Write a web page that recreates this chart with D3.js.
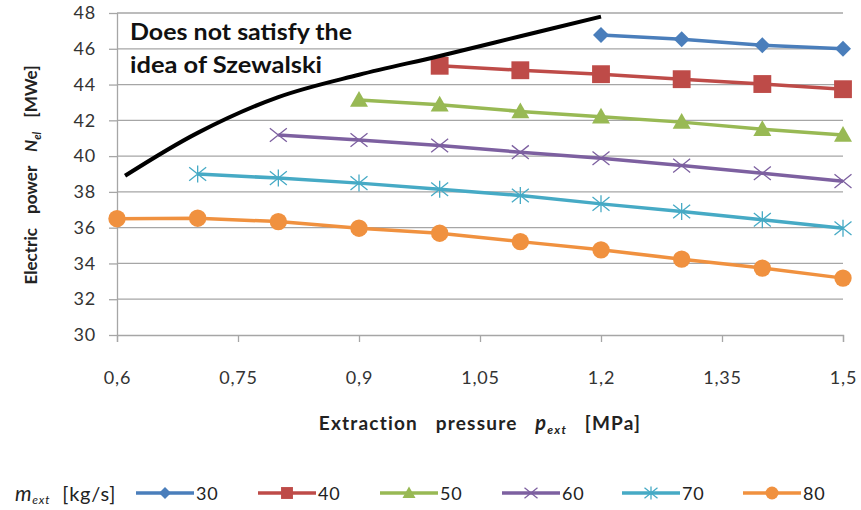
<!DOCTYPE html>
<html><head><meta charset="utf-8">
<script src="https://cdn.jsdelivr.net/npm/d3@7"></script>
<style>body{margin:0;background:#fff;} svg{display:block;font-family:Lato,"Open Sans",sans-serif;}</style>
</head><body><svg id="c" width="861" height="510"></svg>
<script>
const pressures = [0.6,0.7,0.8,0.9,1.0,1.1,1.2,1.3,1.4,1.5];
const flows = [30,40,50,60,70,80];
const s30 = [null,null,null,null,null,null,46.77,46.53,46.2,46.0];
const s40 = [null,null,null,null,45.05,44.8,44.58,44.3,44.03,43.74];
const s50 = [null,null,null,43.14,42.87,42.5,42.2,41.9,41.5,41.18];
const s60 = [null,null,41.18,40.9,40.59,40.22,39.88,39.47,39.04,38.6];
const s70 = [null,39.0,38.77,38.49,38.15,37.8,37.33,36.9,36.44,35.97];
const s80 = [36.5,36.53,36.34,35.97,35.69,35.22,34.76,34.24,33.74,33.18];
const limitP = [0.61,0.7,0.8,0.9,1.0,1.1,1.2];
const limitV = [38.9,41.3,43.3,44.55,45.6,46.7,47.8];
const xTicks = [0.6,0.75,0.9,1.05,1.2,1.35,1.5];
const yTicks = [30,32,34,36,38,40,42,44,46,48];
const colors = ["#4a7ebb","#be4b48","#98b954","#7d60a0","#46aac5","#f0913f"];
const markers = ["diamond","square","triangle","x","asterisk","circle"];
const seriesVals = [s30,s40,s50,s60,s70,s80];

const svg = d3.select("#c");
const x = d3.scaleLinear().domain([0.6,1.5]).range([117,843]);
const y = d3.scaleLinear().domain([30,48]).range([335,13]);
const fmt = d => String(d).replace(".",",");

// gridlines
svg.append("g").selectAll("line").data(yTicks.filter(d=>d>30)).join("line")
  .attr("x1",117).attr("x2",843).attr("y1",d=>y(d)).attr("y2",d=>y(d))
  .attr("stroke","#a6a6a6").attr("stroke-width",1.3);

const ya = svg.append("g").attr("transform","translate(117,0)")
  .call(d3.axisLeft(y).tickValues(yTicks).tickSize(8).tickPadding(13).tickFormat(d=>d));
const xa = svg.append("g").attr("transform","translate(0,335)")
  .call(d3.axisBottom(x).tickValues(xTicks).tickSize(7).tickPadding(29).tickFormat(fmt));
[ya,xa].forEach(a=>{
  a.selectAll("path,line").attr("stroke","#a6a6a6").attr("stroke-width",1.3);
  a.selectAll("text").attr("font-size",18).attr("fill","#333").attr("letter-spacing",0.8)
    .attr("font-family","Lato,sans-serif");
});
ya.select(".domain").attr("d","M0.5,13V335");

function markerPath(type, s){
  const g = d3.path();
  if(type==="diamond"){g.moveTo(0,-s);g.lineTo(s,0);g.lineTo(0,s);g.lineTo(-s,0);g.closePath();}
  else if(type==="square"){g.rect(-s*0.85,-s*0.85,s*1.7,s*1.7);}
  else if(type==="triangle"){g.moveTo(0,-s);g.lineTo(s,s*0.75);g.lineTo(-s,s*0.75);g.closePath();}
  else if(type==="x"){g.moveTo(-s,-s*0.8);g.lineTo(s,s*0.8);g.moveTo(-s,s*0.8);g.lineTo(s,-s*0.8);}
  else if(type==="asterisk"){g.moveTo(-s,-s*0.8);g.lineTo(s,s*0.8);g.moveTo(-s,s*0.8);g.lineTo(s,-s*0.8);g.moveTo(0,-s);g.lineTo(0,s);}
  else if(type==="circle"){g.arc(0,0,s,0,Math.PI*2);}
  return g.toString();
}
function drawMarker(sel, type, color, s){
  const open = type==="x"||type==="asterisk";
  sel.append("path").attr("d",markerPath(type,s))
    .attr("fill",open?"none":color).attr("stroke",color).attr("stroke-width",open?1.3:0);
}

const line = d3.line().defined(d=>d.v!=null).x(d=>x(d.p)).y(d=>y(d.v));
seriesVals.forEach((vals,i)=>{
  const data = pressures.map((p,j)=>({p,v:vals[j]}));
  svg.append("path").datum(data).attr("d",line).attr("fill","none")
    .attr("stroke",colors[i]).attr("stroke-width",3.5);
  data.filter(d=>d.v!=null).forEach(d=>{
    const g = svg.append("g").attr("transform",`translate(${x(d.p)},${y(d.v)})`);
    drawMarker(g, markers[i], colors[i], [8,10.5,9,8.5,8.5,8.7][i]);
  });
});

// limit curve
svg.append("path").datum(limitP.map((p,j)=>({p,v:limitV[j]})))
  .attr("d",d3.line().x(d=>x(d.p)).y(d=>y(d.v)).curve(d3.curveCatmullRom))
  .attr("fill","none").attr("stroke","#000").attr("stroke-width",4);

const note = svg.append("text").attr("font-size",23).attr("font-weight","bold").attr("fill","#111");
note.append("tspan").attr("x",130).attr("y",40).attr("textLength",222).attr("lengthAdjust","spacingAndGlyphs").text("Does not satisfy the");
note.append("tspan").attr("x",130).attr("y",73).attr("textLength",192).attr("lengthAdjust","spacingAndGlyphs").text("idea of Szewalski");

// y title
const yt = svg.append("text").attr("transform","translate(37,175) rotate(-90)").attr("text-anchor","middle")
  .attr("font-size",17).attr("font-weight","bold").attr("fill","#222").attr("word-spacing",10);
yt.append("tspan").text("Electric power ");
yt.append("tspan").attr("font-style","italic").text("N");
yt.append("tspan").attr("font-style","italic").attr("font-size",11).attr("dy",4).text("el");
yt.append("tspan").attr("dy",-4).text(" [MWe]");

const xt = svg.append("text").attr("x",480).attr("y",430).attr("text-anchor","middle")
  .attr("font-size",19).attr("font-weight","bold").attr("fill","#222").attr("word-spacing",12)
  .attr("letter-spacing",1.2);
xt.append("tspan").text("Extraction pressure ");
xt.append("tspan").attr("font-style","italic").attr("font-size",20).text("p");
xt.append("tspan").attr("font-style","italic").attr("font-size",12).attr("dy",4).text("ext");
xt.append("tspan").attr("dy",-4).text(" [MPa]");

// legend
const lt = svg.append("text").attr("x",15).attr("y",501).attr("font-size",20).attr("fill","#222")
  .attr("letter-spacing",0.8).attr("word-spacing",6);
lt.append("tspan").attr("font-style","italic").attr("font-size",21).text("m");
lt.append("tspan").attr("font-style","italic").attr("font-size",12).attr("dy",3).text("ext");
lt.append("tspan").attr("dy",-3).text(" [kg/s]");
const legX = [136,258,380,502,622,743];
flows.forEach((f,i)=>{
  const g = svg.append("g").attr("transform",`translate(${legX[i]},493)`);
  g.append("line").attr("x1",0).attr("x2",58).attr("stroke",colors[i]).attr("stroke-width",3.5);
  const m = g.append("g").attr("transform","translate(29,0)");
  drawMarker(m, markers[i], colors[i], [6,7,6.5,6.5,6.5,6.5][i]);
  g.append("text").attr("x",60).attr("y",7).attr("font-size",18).attr("letter-spacing",0.8).attr("fill","#222").text(f);
});
</script></body></html>
